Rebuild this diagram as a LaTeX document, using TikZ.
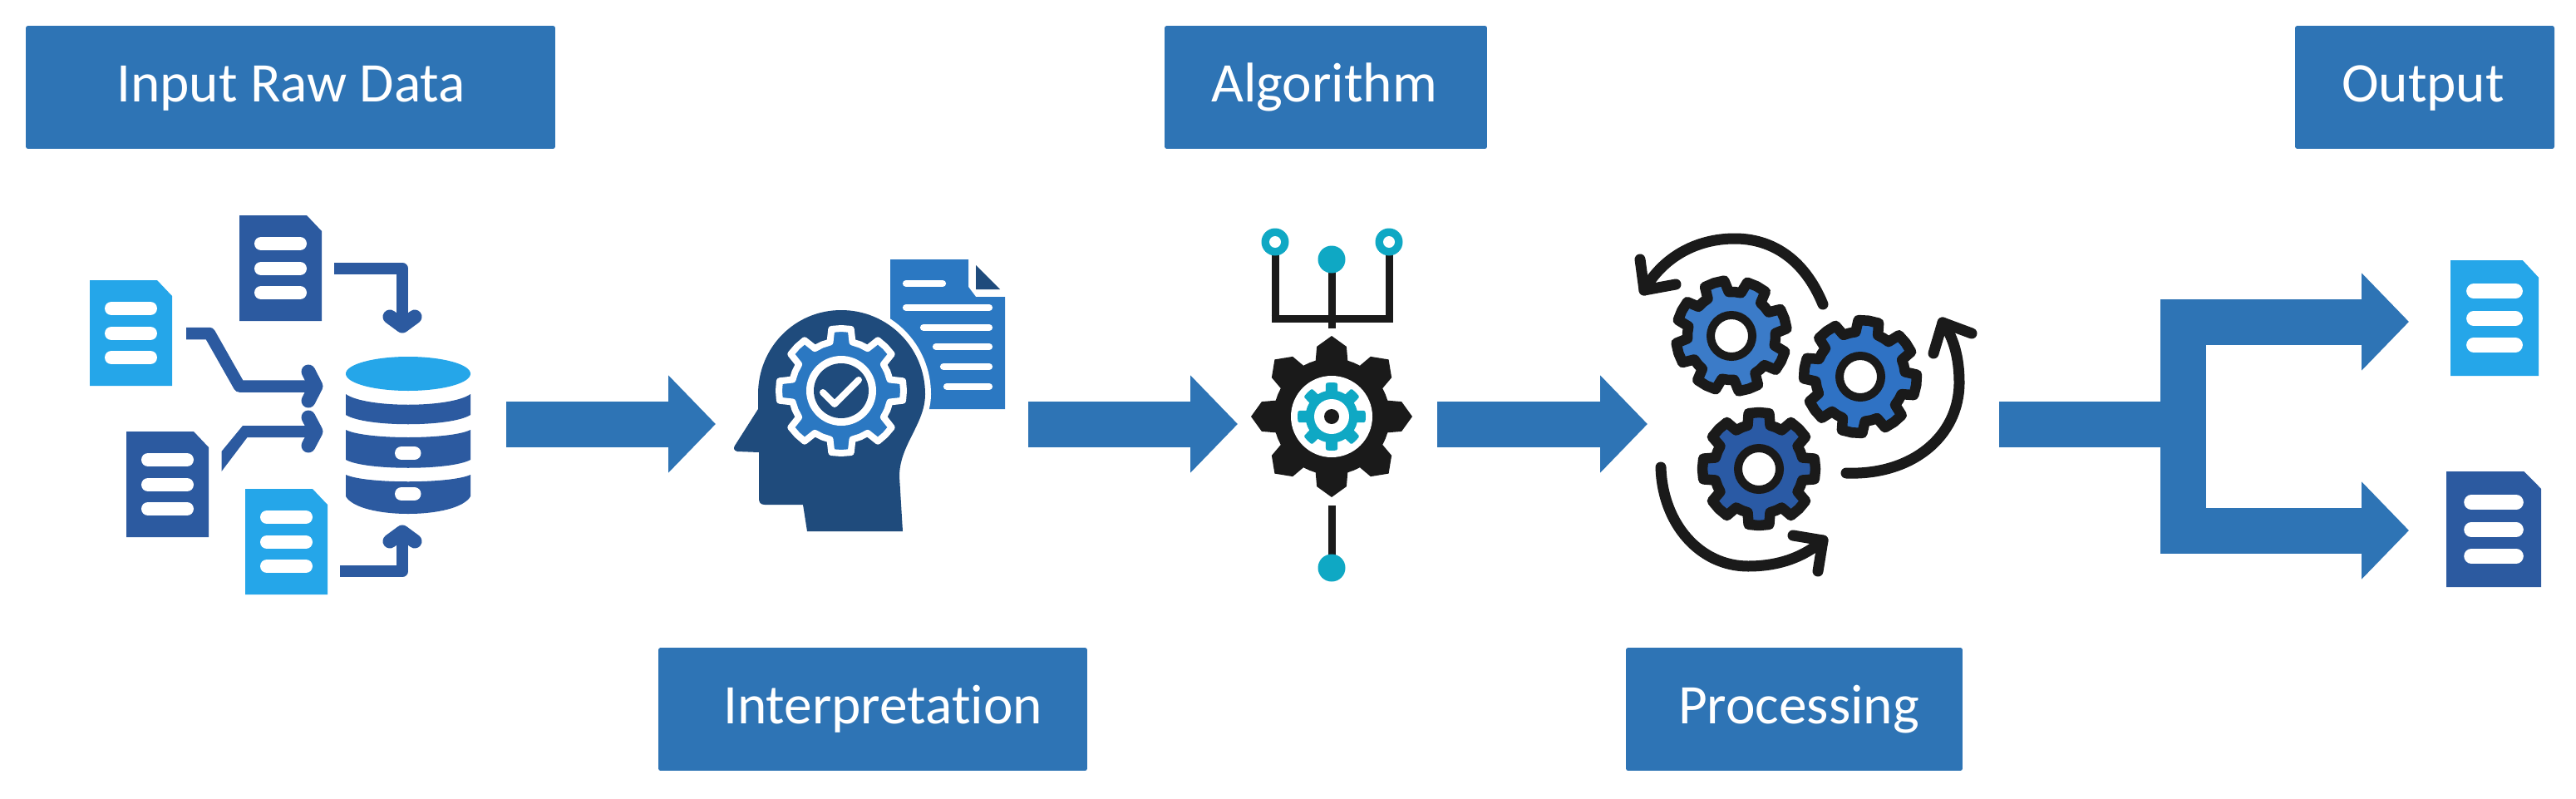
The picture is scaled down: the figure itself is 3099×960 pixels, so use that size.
\documentclass[tikz,border=0pt]{standalone}
\usepackage{fontspec}
\setmainfont[Ligatures=NoCommon]{Carlito}
\usetikzlibrary{arrows.meta}
\definecolor{boxblue}{HTML}{2E74B5}
\definecolor{docdark}{HTML}{2C5AA0}
\definecolor{doclight}{HTML}{25A6E9}
\definecolor{navy}{HTML}{1F4B7C}
\definecolor{gearblue}{HTML}{2B78C2}
\definecolor{teal}{HTML}{0FA8C4}
\definecolor{ink}{HTML}{1A1A1A}
\definecolor{gearA}{HTML}{3B7BC8}
\definecolor{gearB}{HTML}{2F72C4}
\definecolor{gearC}{HTML}{2A5AA5}
\tikzset{
  titlebox/.style={fill=boxblue,rounded corners=1.5pt,inner sep=0pt,minimum height=2.96cm},
  titletext/.style={text=white,anchor=base,inner sep=0pt,font=\fontsize{38.3}{44}\selectfont},
  flow/.style={draw=boxblue,line width=1.1cm,line cap=butt,miter limit=10},
  flowhead/.style={flow,-{Triangle[length=1.14cm,width=2.28cm]}},
  iconline/.style={draw=docdark,line width=0.29cm,line join=round},
  barb/.style={draw=docdark,line width=0.34cm,line cap=round,line join=round},
  loopline/.style={draw=ink,line width=0.26cm,line cap=round,line join=round},
  stem/.style={draw=ink,line width=0.18cm},
  cog/.style={draw=ink,line width=0.25cm,line join=round},
}
% style, n, rotation, R tip, R shoulder, R root, shoulder half angle, base half angle
\newcommand{\gearshape}[8]{%
  \path[#1] ({#3-#8}:#6)
    \foreach \gi [evaluate=\gi as \ga using #3+(\gi-1)*360/#2] in {1,...,#2} {
      -- ({\ga-#8}:#6) -- ({\ga-#7}:#5) -- ({\ga}:#4) -- ({\ga+#7}:#5) -- ({\ga+#8}:#6) -- ({\ga+180/#2}:#6)
    } -- cycle;}
% x, y, w, h, colour, stripe width (cm)
\newcommand{\docicon}[6]{%
  \begin{scope}[shift={(#1,#2)},xscale=#3/99,yscale=#4/127]
    \fill[#5,line join=round] (0,0) -- (81,0) -- (99,19) -- (99,127) -- (0,127) -- cycle;
    \draw[white,line width=#6,line cap=round] (26,34) -- (73,34) (26,64) -- (73,64) (26,93) -- (73,93);
  \end{scope}}
\newcommand{\headoutline}[1]{%
  \path[#1]
  (912,474) .. controls (912,418) and (956,373) .. (1012,373)
  .. controls (1068,373) and (1113,418) .. (1113,474)
  .. controls (1113,510) and (1082,535) .. (1082,573) -- (1086,639) -- (971,639) -- (966,607)
  -- (920,607) .. controls (915,607) and (913,604) .. (913,600) -- (913,544) -- (887,543)
  .. controls (883,542) and (882,539) .. (884,536) -- (912,492) -- cycle;}
\begin{document}
\begin{tikzpicture}[x=0.02cm,y=-0.02cm]
\useasboundingbox[fill=white] (0,0) rectangle (3099,960);

% title boxes
\node[titlebox,minimum width=12.74cm] (inputbox) at (349.5,105) {};
\node[titlebox,minimum width=7.76cm] (algobox) at (1595,105) {};
\node[titlebox,minimum width=6.24cm] (outbox) at (2917,105) {};
\node[titlebox,minimum width=10.32cm] (interbox) at (1050,853) {};
\node[titlebox,minimum width=8.10cm] (procbox) at (2158.5,853) {};
\node[titletext] (inputtext) at (350,122) {Input Raw Data};
\node[titletext] (algotext) at (1593,122) {Algorithm};
\node[titletext] (outtext) at (2915,122) {Output};
\node[titletext] (intertext) at (1062,870) {Interpretation};
\node[titletext] (proctext) at (2164,870) {Processing};

% flow arrows
\coordinate (a1s) at (609,510); \coordinate (a1e) at (861,510);
\coordinate (a2s) at (1237,510); \coordinate (a2e) at (1489,510);
\coordinate (a3s) at (1729,510); \coordinate (a3e) at (1982,510);
\coordinate (a4s) at (2405,510); \coordinate (split) at (2626,510);
\coordinate (o1) at (2898,387); \coordinate (o2) at (2898,638);
\draw[flowhead] (a1s) -- (a1e);
\draw[flowhead] (a2s) -- (a2e);
\draw[flowhead] (a3s) -- (a3e);
\draw[flow] (a4s) -- (split);
\draw[flowhead] (split) |- (o1);
\draw[flowhead] (split) |- (o2);

% input icon: documents
\docicon{288}{259}{99}{127}{docdark}{0.32cm}
\docicon{108}{337}{99}{127}{doclight}{0.32cm}
\docicon{152}{519}{99}{127}{docdark}{0.32cm}
\docicon{295}{588}{99}{127}{doclight}{0.32cm}
% input icon: arrows
\draw[iconline] (402,323) -- (484,323) -- (484,392);
\draw[barb] (469,381) -- (484,392) -- (499,381);
\draw[iconline] (224,401) -- (252,401) -- (288,464.5) -- (378,464.5);
\draw[barb] (371,447) -- (380,464.5) -- (371,482);
\fill[docdark] (266.5,543) -- (292,512) -- (378,512) -- (378,526) -- (297.5,526) -- (266.5,567) -- cycle;
\draw[barb] (371,502) -- (380,519) -- (371,536);
\draw[iconline] (409,687) -- (484,687) -- (484,640);
\draw[barb] (469,651) -- (484,640) -- (499,651);
% input icon: database
\fill[doclight] (491,449.5) ellipse [x radius=75,y radius=20.5];
\fill[docdark] (416,474) .. controls (440,491) and (542,491) .. (566,474) -- (566,499) .. controls (542,514) and (440,514) .. (416,499) -- cycle;
\fill[docdark] (416,517) .. controls (440,529) and (542,529) .. (566,517) -- (566,553) .. controls (542,566) and (440,566) .. (416,553) -- cycle;
\fill[docdark] (416,571) .. controls (440,582) and (542,582) .. (566,571) -- (566,597) .. controls (550,625) and (432,625) .. (416,597) -- cycle;
\draw[white,line width=0.32cm,line cap=round] (483,545) -- (498.5,545) (483,594) -- (498.5,594);

% interpretation icon: page
\fill[gearblue] (1071,312) -- (1165,312) -- (1165,345) -- (1174,357) -- (1209,357) -- (1209,492) -- (1071,492) -- cycle;
\fill[navy,line join=round] (1174,319) -- (1203,348) -- (1174,348) -- cycle;
\draw[white,line width=0.165cm,line cap=round]
  (1090,341) -- (1134,341) (1090,370) -- (1190,370) (1111,394) -- (1190,394)
  (1126,417) -- (1190,417) (1135,441) -- (1190,441) (1139,465) -- (1190,465);
% interpretation icon: head
\headoutline{draw=white,line width=0.28cm,line join=round}
\headoutline{fill=navy}
\gearshape{draw=white,line width=0.16cm,line join=round,fill=gearblue,shift={(1012,470)}}{8}{-90}{75}{75}{60}{9}{13}
\fill[white] (1012,470) circle [radius=42];
\fill[navy] (1012,470) circle [radius=33];
\draw[white,line width=0.16cm,line cap=round,line join=round] (990,472) -- (1004,486) -- (1033,457);

% algorithm icon
\draw[stem] (1534,300) -- (1534,383.5) (1671,300) -- (1671,383.5);
\draw[stem] (1529.5,383.5) -- (1675.5,383.5);
\draw[stem] (1602,320) -- (1602,395);
\draw[stem] (1602,608) -- (1602,675);
\fill[teal] (1534,291) circle [radius=16.5];
\fill[white] (1534,291) circle [radius=7];
\fill[teal] (1671,291) circle [radius=16.5];
\fill[white] (1671,291) circle [radius=7];
\fill[teal] (1602,312) circle [radius=16.5];
\fill[teal] (1602,683) circle [radius=16.5];
\gearshape{fill=ink,shift={(1602,501)}}{8}{-90}{97}{86}{70}{12}{16}
\fill[white] (1602,501) circle [radius=49];
\gearshape{fill=teal,draw=teal,line width=0.06cm,line join=round,shift={(1602,501)}}{8}{-90}{39.5}{39.5}{30}{8}{11}
\fill[white] (1602,501) circle [radius=21];
\fill[ink] (1602,501) circle [radius=9];

% processing icon
\gearshape{cog,fill=gearA,shift={(2083,404)}}{8}{-18}{67}{67}{53}{10.5}{14.5}
\gearshape{cog,fill=gearB,shift={(2238,453)}}{8}{-81.5}{68}{68}{54}{10.5}{14.5}
\gearshape{cog,fill=gearC,shift={(2116,564)}}{8}{-90}{68}{68}{54}{10.5}{14.5}
\draw[ink,fill=white,line width=0.2cm] (2083,404) circle [radius=25];
\draw[ink,fill=white,line width=0.2cm] (2238,453) circle [radius=25];
\draw[ink,fill=white,line width=0.2cm] (2116,564) circle [radius=25];
\draw[loopline] (2193,366) .. controls (2170,310) and (2130,287) .. (2087,287) .. controls (2040,287) and (2000,310) .. (1978,349);
\draw[loopline] (1973,312) -- (1978,349) -- (2016,342);
\draw[loopline] (2221,569) .. controls (2300,572) and (2357,525) .. (2357,460) .. controls (2357,430) and (2350,405) .. (2337,388);
\draw[loopline] (2326,425) -- (2337,388) -- (2372,401);
\draw[loopline] (1998,562) .. controls (2000,630) and (2045,681) .. (2103,681) .. controls (2140,681) and (2170,670) .. (2193,650);
\draw[loopline] (2157,644) -- (2193,650) -- (2187,687);

% output documents
\docicon{2948}{313}{106}{139}{doclight}{0.35cm}
\docicon{2943}{567}{114}{139}{docdark}{0.35cm}
\end{tikzpicture}
\end{document}
